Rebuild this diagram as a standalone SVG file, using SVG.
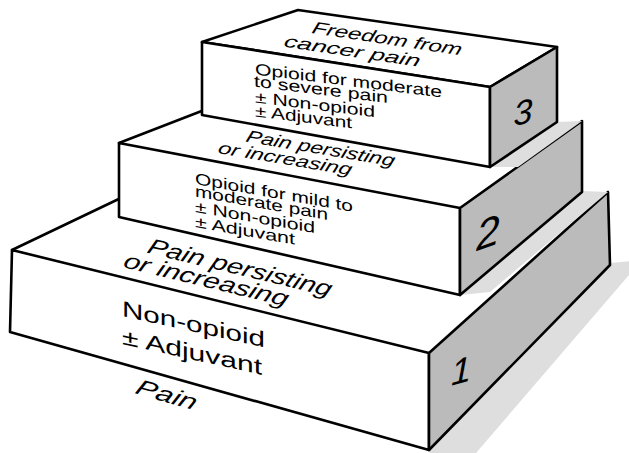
<svg xmlns="http://www.w3.org/2000/svg" width="629" height="453" viewBox="0 0 629 453">
<style>
.face{fill:#ffffff;stroke:#000;stroke-width:2.6;stroke-linejoin:round}
.side{fill:#bbbbbb;stroke:#000;stroke-width:2.6;stroke-linejoin:round}
.fill{fill:#ffffff;stroke:none}
.edge{fill:none;stroke:#000;stroke-width:2.6;stroke-linecap:round}
.shadow{fill:#dedede;stroke:none}
.body{font-family:"Liberation Sans",Arial,sans-serif;fill:#000}
.lab{font-family:"Liberation Sans",Arial,sans-serif;font-style:italic;fill:#000}
.num{font-family:"Liberation Sans",Arial,sans-serif;font-style:italic;fill:#000;text-anchor:middle}
</style>
<rect width="629" height="453" fill="#ffffff"/>
<g id="shadows">
<polygon class="shadow" points="429,450 610,263 642,260 476,453 430,453"/>
</g>
<g id="block1">
<polygon class="fill" points="12,250 125,196 608,192 429,353"/>
<line class="edge" x1="12" y1="250" x2="125" y2="196"/>
<polygon class="face" points="12,250 429,353 429,450 10,332"/>
<polygon class="side" points="429,353 608,192 610,265 429,450"/>
<polygon class="shadow" points="460,295 582,191 608,192 490,292"/>
<g transform="translate(146,252.5) rotate(13.5) skewX(-8)"><text class="lab" font-size="22" textLength="188" lengthAdjust="spacingAndGlyphs">Pain persisting</text></g>
<g transform="translate(122,267) rotate(13.5) skewX(-8)"><text class="lab" font-size="22" textLength="168" lengthAdjust="spacingAndGlyphs">or increasing</text></g>
<g transform="translate(122,316) skewY(12.4)"><text class="body" font-size="22" textLength="143" lengthAdjust="spacingAndGlyphs">Non-opioid</text></g>
<g transform="translate(122,344) skewY(12.4)"><text class="body" font-size="22" textLength="140" lengthAdjust="spacingAndGlyphs">± Adjuvant</text></g>
<g transform="translate(134,393) rotate(16) skewX(-8)"><text class="lab" font-size="22" textLength="62" lengthAdjust="spacingAndGlyphs">Pain</text></g>
<g transform="translate(461,383) skewY(-15)"><text class="num" font-size="36">1</text></g>
</g>
<g id="block2">
<polygon class="fill" points="119,143 212,107 582,121 460,208"/>
<line class="edge" x1="119" y1="143" x2="212" y2="107"/>
<polygon class="face" points="119,143 460,208 460,295 119,217"/>
<polygon class="side" points="460,208 582,121 582,192 460,295"/>
<polygon class="shadow" points="490,167 557,122 582,121 518,167"/>
<g transform="translate(245,141.5) rotate(9.5) skewX(-8)"><text class="lab" font-size="17" textLength="150" lengthAdjust="spacingAndGlyphs">Pain persisting</text></g>
<g transform="translate(217,153) rotate(9.5) skewX(-8)"><text class="lab" font-size="17" textLength="135" lengthAdjust="spacingAndGlyphs">or increasing</text></g>
<g transform="translate(195,184) skewY(10)"><text class="body" font-size="16" textLength="158" lengthAdjust="spacingAndGlyphs">Opioid for mild to</text></g>
<g transform="translate(195,196.5) skewY(10)"><text class="body" font-size="16" textLength="133" lengthAdjust="spacingAndGlyphs">moderate pain</text></g>
<g transform="translate(195,212) skewY(10)"><text class="body" font-size="16" textLength="120" lengthAdjust="spacingAndGlyphs">± Non-opioid</text></g>
<g transform="translate(195,227) skewY(10)"><text class="body" font-size="16" textLength="100" lengthAdjust="spacingAndGlyphs">± Adjuvant</text></g>
<g transform="translate(488,247) skewY(-20)"><text class="num" font-size="42">2</text></g>
</g>
<g id="block3">
<polygon class="face" points="202,42 298,10 557,47 490,87"/>
<polygon class="face" points="202,42 490,87 490,167 202,115"/>
<polygon class="side" points="490,87 557,47 557,122 490,167"/>
<g transform="translate(311,33) rotate(8.5) skewX(-8)"><text class="lab" font-size="17" textLength="151" lengthAdjust="spacingAndGlyphs">Freedom from</text></g>
<g transform="translate(283,46.5) rotate(8.5) skewX(-8)"><text class="lab" font-size="17" textLength="137" lengthAdjust="spacingAndGlyphs">cancer pain</text></g>
<g transform="translate(255,74.4) skewY(7)"><text class="body" font-size="16" textLength="187" lengthAdjust="spacingAndGlyphs">Opioid for moderate</text></g>
<g transform="translate(254,86.5) skewY(7)"><text class="body" font-size="16" textLength="134" lengthAdjust="spacingAndGlyphs">to severe pain</text></g>
<g transform="translate(255,102.4) skewY(7)"><text class="body" font-size="16" textLength="120" lengthAdjust="spacingAndGlyphs">± Non-opioid</text></g>
<g transform="translate(255,116.4) skewY(7)"><text class="body" font-size="16" textLength="97" lengthAdjust="spacingAndGlyphs">± Adjuvant</text></g>
<g transform="translate(523,124) skewY(-15)"><text class="num" font-size="34">3</text></g>
</g>
</svg>
